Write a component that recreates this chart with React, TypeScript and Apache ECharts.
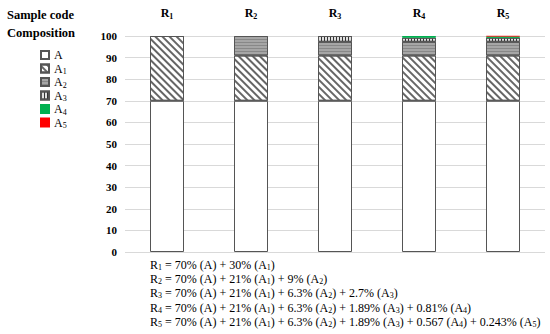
import React, { useEffect, useRef } from "react";
import * as echarts from "echarts";

const categories = ["1", "2", "3", "4", "5"];
const seriesNames = ["A", "A1", "A2", "A3", "A4", "A5"];
const valuesA = [70, 70, 70, 70, 70];
const valuesA1 = [30, 21, 21, 21, 21];
const valuesA2 = [null, 9, 6.3, 6.3, 6.3];
const valuesA3 = [null, null, 2.7, 1.89, 1.89];
const valuesA4 = [null, null, null, 0.81, 0.567];
const valuesA5 = [null, null, null, null, 0.243];
const yTicks = [0, 100, 10];

const formulas: string[][] = [
  ["1", "70% (A) + 30% (A{1})"],
  ["2", "70% (A) + 21% (A{1}) + 9% (A{2})"],
  ["3", "70% (A) + 21% (A{1}) + 6.3% (A{2}) + 2.7% (A{3})"],
  ["4", "70% (A) + 21% (A{1}) + 6.3% (A{2}) + 1.89% (A{3}) + 0.81% (A{4})"],
  ["5", "70% (A) + 21% (A{1}) + 6.3% (A{2}) + 1.89% (A{3}) + 0.567 (A{4}) + 0.243% (A{5})"],
];

const FONT = "Liberation Serif";

function toRich(s: string) {
  return s.replace(/\{(\d)\}/g, "{sub|$1}");
}

export default function App() {
  const ref = useRef<HTMLDivElement>(null);
  useEffect(() => {
    if (!ref.current) return;
    const chart = echarts.init(ref.current, undefined, { renderer: "svg" });
    const border = { borderColor: "#555", borderWidth: 1 };
    const styles: any[] = [
      { color: "#fff", ...border },
      {
        color: "#fff",
        ...border,
        decal: { symbol: "rect", symbolSize: 1, dashArrayX: [1, 0], dashArrayY: [1.5, 3], rotation: Math.PI / 4, color: "#666" },
      },
      {
        color: "#a6a6a6",
        ...border,
        decal: { symbol: "rect", symbolSize: 1, dashArrayX: [1, 0], dashArrayY: [1, 2], rotation: 0, color: "#888" },
      },
      {
        color: "#e0e0e0",
        ...border,
        decal: { symbol: "rect", symbolSize: 1, dashArrayX: [1, 1.5], dashArrayY: [1, 0], rotation: 0, color: "#333" },
      },
      { color: "#00b050", borderColor: "#00b050", borderWidth: 1 },
      { color: "#ff0000", borderColor: "#ff0000", borderWidth: 0.5 },
    ];
    const data = [valuesA, valuesA1, valuesA2, valuesA3, valuesA4, valuesA5];

    const graphics: any[] = [
      { type: "text", left: 7, top: 8, style: { text: "Sample code", fontFamily: FONT, fontWeight: "bold", fontSize: 12.5, fill: "#000" } },
      { type: "text", left: 7, top: 26, style: { text: "Composition", fontFamily: FONT, fontWeight: "bold", fontSize: 12.5, fill: "#000" } },
    ];
    formulas.forEach((f, i) => {
      graphics.push({
        type: "text",
        left: 150,
        top: 258 + i * 14.2,
        style: {
          text: `R{sub|${f[0]}} = ` + toRich(f[1]),
          fontFamily: FONT,
          fontSize: 12,
          lineHeight: 14,
          fill: "#000",
          rich: { sub: { fontFamily: FONT, fontSize: 8, lineHeight: 14, padding: [5, 0, 0, 0], fill: "#000" } },
        },
      });
    });

    const legends = seriesNames.map((n, i) => ({
      orient: "vertical",
      left: 40,
      top: 49 + i * 13.5,
      itemWidth: 8,
      itemHeight: 8,
      padding: 0,
      icon: "rect",
      selectedMode: false,
      data: [n],
      formatter: (name: string) => (name.length > 1 ? `A{sub|${name.slice(1)}}` : name),
      textStyle: {
        fontFamily: FONT,
        fontSize: 12,
        color: "#000",
        rich: { sub: { fontFamily: FONT, fontSize: 8, color: "#000", padding: [6, 0, 0, 0] } },
      },
    }));

    chart.setOption({
      animation: false,
      grid: { left: 125, right: 5, top: 36, bottom: 82 },
      xAxis: {
        type: "category",
        position: "top",
        data: categories,
        axisLine: { show: false },
        axisTick: { show: false },
        axisLabel: {
          margin: 16,
          formatter: (v: string) => `R{s|${v}}`,
          fontFamily: FONT,
          fontWeight: "bold",
          fontSize: 12,
          color: "#000",
          rich: { s: { fontFamily: FONT, fontWeight: "bold", fontSize: 8, color: "#000", padding: [6, 0, 0, 0] } },
        },
      },
      yAxis: {
        type: "value",
        min: yTicks[0],
        max: yTicks[1],
        interval: yTicks[2],
        axisLine: { show: false },
        axisTick: { show: false },
        axisLabel: { fontFamily: FONT, fontWeight: "bold", fontSize: 11, color: "#000", margin: 8 },
        splitLine: { lineStyle: { color: "#d9d9d9", width: 1 } },
      },
      legend: legends,
      series: seriesNames.map((n, i) => ({
        name: n,
        type: "bar",
        stack: "total",
        barWidth: 34,
        data: data[i],
        itemStyle: styles[i],
        emphasis: { disabled: true },
      })),
      graphic: graphics,
    });
    return () => chart.dispose();
  }, []);
  return <div ref={ref} style={{ width: 550, height: 334, position: "absolute", left: 0, top: 0 }} />;
}
